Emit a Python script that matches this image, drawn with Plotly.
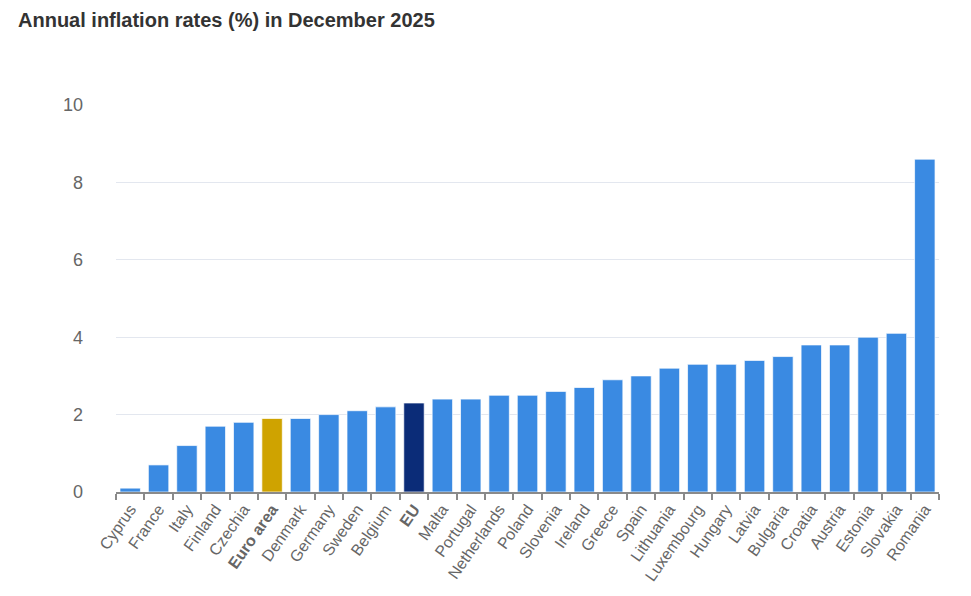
import plotly.graph_objects as go

countries = ["Cyprus", "France", "Italy", "Finland", "Czechia", "Euro area", "Denmark", "Germany",
             "Sweden", "Belgium", "EU", "Malta", "Portugal", "Netherlands", "Poland", "Slovenia",
             "Ireland", "Greece", "Spain", "Lithuania", "Luxembourg", "Hungary", "Latvia", "Bulgaria",
             "Croatia", "Austria", "Estonia", "Slovakia", "Romania"]
rates = [0.1, 0.7, 1.2, 1.7, 1.8, 1.9, 1.9, 2.0, 2.1, 2.2, 2.3, 2.4, 2.4, 2.5, 2.5, 2.6,
         2.7, 2.9, 3.0, 3.2, 3.3, 3.3, 3.4, 3.5, 3.8, 3.8, 4.0, 4.1, 8.6]
y_ticks = [0, 2, 4, 6, 8, 10]

BLUE = "#3a8ae2"
GOLD = "#cfa300"
NAVY = "#0b2c78"
colors = [GOLD if c == "Euro area" else NAVY if c == "EU" else BLUE for c in countries]
ticktext = [f"<b>{c}</b>" if c in ("Euro area", "EU") else c for c in countries]

fig = go.Figure(go.Bar(
    x=countries, y=rates,
    marker=dict(color=colors, line=dict(color="rgba(255,255,255,0.7)", width=1)),
))

fig.update_layout(
    width=971, height=596,
    paper_bgcolor="white", plot_bgcolor="white",
    margin=dict(l=108, r=40, t=97, b=112),
    bargap=0.28,
    showlegend=False,
    font=dict(family="Liberation Sans, Arial, sans-serif", color="#666666"),
    title=dict(text="<b>Annual inflation rates (%) in December 2025</b>",
               xref="container", yref="container", x=10 / 971, y=0.98,
               xanchor="left", yanchor="middle",
               font=dict(size=20, color="#333333", family="Liberation Sans, Arial, sans-serif")),
)
fig.update_xaxes(
    tickmode="array", tickvals=countries, ticktext=ticktext,
    tickangle=-55, tickfont=dict(size=16, color="#666666"),
    showline=True, linecolor="#8a8a8a", linewidth=1.5,
    ticks="outside", tickson="boundaries", ticklen=6, tickcolor="#8a8a8a", tickwidth=1.5,
    showgrid=False, range=[-0.5, len(countries) - 0.5],
)
fig.update_yaxes(
    range=[0, 10], tickvals=y_ticks, tickfont=dict(size=18, color="#666666"),
    showgrid=True, gridcolor="#e3e7ef", gridwidth=1,
    zeroline=False, showline=False, ticklabelstandoff=32,
)

fig.write_html("out.html")
